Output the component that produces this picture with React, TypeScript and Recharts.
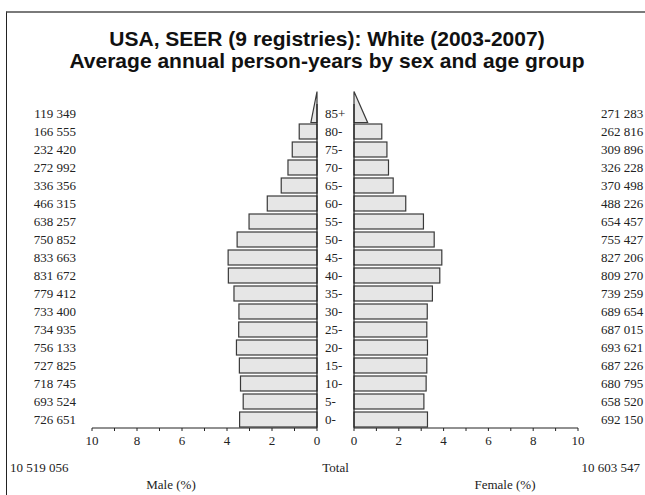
import React from 'react';
import { BarChart, Bar, XAxis, YAxis, ReferenceLine } from 'recharts';

// ---- data ----
const ageGroups = ['0-', '5-', '10-', '15-', '20-', '25-', '30-', '35-', '40-', '45-', '50-', '55-', '60-', '65-', '70-', '75-', '80-', '85+'];
const maleCounts = [726651, 693524, 718745, 727825, 756133, 734935, 733400, 779412, 831672, 833663, 750852, 638257, 466315, 336356, 272992, 232420, 166555, 119349];
const femaleCounts = [692150, 658520, 680795, 687226, 693621, 687015, 689654, 739259, 809270, 827206, 755427, 654457, 488226, 370498, 326228, 309896, 262816, 271283];
// bar lengths in % of total person-years
const malePercent = [3.44, 3.28, 3.40, 3.45, 3.58, 3.48, 3.47, 3.69, 3.94, 3.95, 3.55, 3.02, 2.21, 1.59, 1.29, 1.10, 0.79, 0.57];
const femalePercent = [3.28, 3.12, 3.22, 3.25, 3.28, 3.25, 3.27, 3.50, 3.83, 3.92, 3.58, 3.10, 2.31, 1.75, 1.54, 1.47, 1.24, 1.28];
const maleTotal = '10 519 056';
const femaleTotal = '10 603 547';
const axisTicks = [0, 1, 2, 3, 4, 5, 6, 7, 8, 9, 10];
const titleLines = ['USA, SEER (9 registries): White (2003-2007)', 'Average annual person-years by sex and age group'];

const fmt = (n: number) => String(n).replace(/\B(?=(\d{3})+(?!\d))/g, ' ');

// table for recharts, top row first (85+)
const rows = ageGroups
  .map((age, i) => ({
    age,
    male: malePercent[i],
    female: femalePercent[i],
    maleLabel: fmt(maleCounts[i]),
    femaleLabel: fmt(femaleCounts[i]),
  }))
  .reverse();
const rowByAge: Record<string, any> = {};
rows.forEach((r) => (rowByAge[r.age] = r));

const SERIF = '"Liberation Serif", "Times New Roman", serif';
const SANS = '"Liberation Sans", Arial, sans-serif';
const TEXT_COLOR = '#222';
const BAR_FILL = '#e6e6e6';
const BAR_STROKE = '#3a3a3a';
const H = 495;
const MARGIN_TOP = 104;
const XAXIS_H = 30;
const MARGIN_BOTTOM = H - 428 - XAXIS_H;

const makeShape = (side: 'left' | 'right') => (props: any) => {
  const { x, y, width, height, payload } = props;
  if (x == null || width == null) return <g />;
  const x0 = side === 'left' ? Math.max(x, x + width) : Math.min(x, x + width);
  const w = Math.abs(width);
  const dir = side === 'left' ? -1 : 1;
  if (payload && payload.age === '85+') {
    const baseY = y + height + 1.5;
    const apexY = baseY - 31;
    const tip = x0 + dir * w * 0.475;
    return (
      <polygon
        points={`${x0},${apexY} ${x0},${baseY} ${tip},${baseY}`}
        fill={BAR_FILL}
        stroke={BAR_STROKE}
        strokeWidth={1.2}
      />
    );
  }
  return (
    <rect
      x={Math.min(x, x + width)}
      y={y}
      width={w}
      height={height}
      fill={BAR_FILL}
      stroke={BAR_STROKE}
      strokeWidth={1.2}
    />
  );
};

const LeftTick = (props: any) => {
  const { y, payload } = props;
  const r = rowByAge[payload.value];
  return (
    <text x={76} y={y} dy="0.35em" textAnchor="end" fontFamily={SERIF} fontSize={13} fill={TEXT_COLOR}>
      {r ? r.maleLabel : ''}
    </text>
  );
};

const RightTick = (props: any) => {
  const { y, payload } = props;
  const r = rowByAge[payload.value];
  return (
    <g>
      <text x={8} y={y} dy="0.35em" textAnchor="start" fontFamily={SERIF} fontSize={13} fill={TEXT_COLOR}>
        {payload.value}
      </text>
      <text x={284} y={y} dy="0.35em" textAnchor="start" fontFamily={SERIF} fontSize={13} fill={TEXT_COLOR}>
        {r ? r.femaleLabel : ''}
      </text>
    </g>
  );
};

const xTickStyle = { fontFamily: SERIF, fontSize: 13, fill: TEXT_COLOR };
const tickFmt = (v: number) => (v % 2 === 0 ? String(v) : '');

export default function App() {
  return (
    <div style={{ position: 'absolute', left: 0, top: 0, width: 645, height: H, background: '#fff', overflow: 'hidden' }}>
      {/* frame */}
      <div style={{ position: 'absolute', left: 6, top: 11, width: 660, height: 500, borderTop: '2px solid #7a7a7a', borderLeft: '1.5px solid #222' }} />

      <div style={{ position: 'absolute', left: 0, top: 0 }}>
        <BarChart
          width={330}
          height={H}
          data={rows}
          layout="vertical"
          margin={{ top: MARGIN_TOP, right: 13, bottom: MARGIN_BOTTOM, left: 0 }}
          barSize={15}
        >
          <XAxis
            type="number"
            domain={[0, 10]}
            reversed
            ticks={axisTicks}
            interval={0}
            tickFormatter={tickFmt}
            tickSize={3}
            tickMargin={5}
            height={XAXIS_H}
            axisLine={{ stroke: '#222' }}
            tickLine={{ stroke: '#222' }}
            tick={xTickStyle}
          />
          <YAxis type="category" dataKey="age" width={92} axisLine={false} tickLine={false} tick={<LeftTick />} interval={0} />
          <Bar dataKey="male" isAnimationActive={false} shape={makeShape('left')} />
          <ReferenceLine x={0} stroke="#222" strokeWidth={1.2} ifOverflow="extendDomain" />
        </BarChart>
      </div>

      <div style={{ position: 'absolute', left: 317, top: 0 }}>
        <BarChart
          width={328}
          height={H}
          data={rows}
          layout="vertical"
          margin={{ top: MARGIN_TOP, right: 67, bottom: MARGIN_BOTTOM, left: 0 }}
          barSize={15}
        >
          <XAxis
            type="number"
            domain={[0, 10]}
            ticks={axisTicks}
            interval={0}
            tickFormatter={tickFmt}
            tickSize={3}
            tickMargin={5}
            height={XAXIS_H}
            axisLine={{ stroke: '#222' }}
            tickLine={{ stroke: '#222' }}
            tick={xTickStyle}
          />
          <YAxis type="category" dataKey="age" width={37} axisLine={false} tickLine={false} tick={<RightTick />} interval={0} />
          <Bar dataKey="female" isAnimationActive={false} shape={makeShape('right')} />
          <ReferenceLine x={0} stroke="#222" strokeWidth={1.2} ifOverflow="extendDomain" />
        </BarChart>
      </div>

      {/* titles and footer texts */}
      <svg width={645} height={H} style={{ position: 'absolute', left: 0, top: 0, pointerEvents: 'none' }}>
        <text x={327} y={45.5} textAnchor="middle" fontFamily={SANS} fontWeight="bold" fontSize={21} fill="#111">
          {titleLines[0]}
        </text>
        <text x={327} y={67.5} textAnchor="middle" fontFamily={SANS} fontWeight="bold" fontSize={21} fill="#111">
          {titleLines[1]}
        </text>
        <text x={10} y={471.5} textAnchor="start" fontFamily={SERIF} fontSize={13} fill={TEXT_COLOR}>{maleTotal}</text>
        <text x={335.5} y={471.5} textAnchor="middle" fontFamily={SERIF} fontSize={13} fill={TEXT_COLOR}>Total</text>
        <text x={640} y={471.5} textAnchor="end" fontFamily={SERIF} fontSize={13} fill={TEXT_COLOR}>{femaleTotal}</text>
        <text x={171} y={488.5} textAnchor="middle" fontFamily={SERIF} fontSize={13} fill={TEXT_COLOR}>Male (%)</text>
        <text x={505} y={488.5} textAnchor="middle" fontFamily={SERIF} fontSize={13} fill={TEXT_COLOR}>Female (%)</text>
      </svg>
    </div>
  );
}
